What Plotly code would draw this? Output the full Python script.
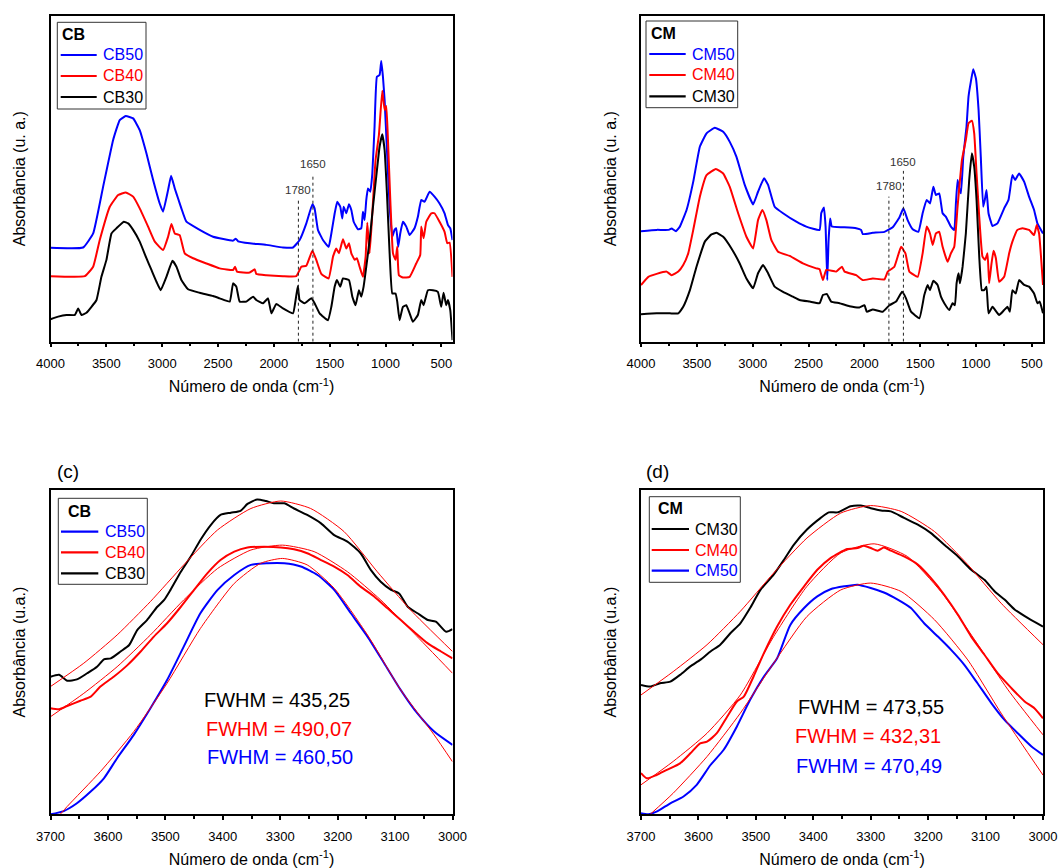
import plotly.graph_objects as go

# ---------------- DATA (wavenumber cm-1, absorbance a.u.) ----------------
# Panel (a): CB full spectra
CB50_FULL = [(4000, 28.8), (3708, 28.9), (3618, 33.2), (3529, 47.5), (3439, 61.9), (3380, 68.0), (3326, 69.2),
             (3260, 68.5), (3201, 64.9), (3141, 57.8), (3081, 49.6), (3022, 42.4), (2992, 39.9), (2947, 46.5),
             (2920, 50.9), (2887, 47.0), (2858, 44.0), (2828, 40.9), (2783, 36.8), (2664, 34.3), (2544, 32.2),
             (2365, 31.0), (2341, 31.6), (2320, 30.8), (2216, 30.2), (2067, 29.7), (1918, 28.9), (1828, 28.9),
             (1769, 31.2), (1709, 36.3), (1655, 42.2), (1635, 40.9), (1605, 34.3), (1560, 31.2), (1509, 29.1),
             (1485, 33.2), (1455, 39.4), (1432, 42.9), (1405, 41.4), (1387, 37.8), (1375, 41.4), (1351, 39.4),
             (1327, 42.2), (1306, 40.4), (1285, 36.8), (1247, 34.5), (1217, 34.8), (1202, 39.9), (1187, 37.3),
             (1172, 43.5), (1157, 47.0), (1136, 46.0), (1118, 51.6), (1098, 66.0), (1077, 81.3), (1053, 81.8),
             (1038, 86.1), (1023, 81.3), (1008, 74.1), (987, 58.8), (963, 41.4), (939, 32.2), (919, 34.3),
             (904, 34.8), (886, 29.1), (868, 33.2), (844, 36.8), (814, 35.3), (784, 32.7), (740, 34.8),
             (710, 38.3), (680, 43.5), (650, 42.9), (605, 46.0), (561, 44.5), (516, 42.4), (471, 39.4),
             (441, 35.8), (420, 34.8), (400, 31.2)]
CB40_FULL = [(4000, 20.1), (3693, 20.1), (3618, 23.0), (3559, 31.2), (3469, 41.4), (3394, 45.0), (3326, 45.8),
             (3260, 44.5), (3201, 40.9), (3126, 35.3), (3066, 30.7), (2992, 28.1), (2947, 32.2), (2917, 36.1),
             (2887, 33.2), (2843, 32.7), (2798, 27.1), (2723, 25.6), (2604, 24.0), (2485, 22.5), (2365, 22.0),
             (2347, 23.0), (2330, 21.5), (2216, 21.2), (2171, 22.2), (2157, 20.8), (2067, 20.4), (1918, 20.1),
             (1799, 20.1), (1754, 23.0), (1709, 23.3), (1655, 27.9), (1620, 25.1), (1575, 20.8), (1509, 19.4),
             (1470, 26.1), (1441, 28.6), (1417, 27.1), (1381, 31.4), (1351, 28.6), (1327, 30.2), (1306, 27.1),
             (1276, 25.1), (1256, 25.6), (1232, 23.0), (1202, 19.9), (1178, 26.1), (1163, 36.5), (1142, 27.1),
             (1118, 39.4), (1089, 55.7), (1059, 63.4), (1029, 77.0), (1008, 71.1), (993, 72.3), (978, 61.9),
             (957, 43.5), (933, 27.1), (910, 25.1), (895, 29.1), (880, 20.4), (844, 19.7), (784, 19.9),
             (725, 24.0), (689, 26.6), (680, 35.3), (659, 31.7), (635, 36.8), (590, 39.4), (561, 39.4),
             (516, 36.8), (471, 33.7), (447, 30.2), (426, 30.4), (400, 19.9)]
CB30_FULL = [(4000, 6.9), (3931, 7.7), (3857, 8.2), (3782, 8.2), (3752, 10.2), (3723, 8.2), (3678, 8.9),
             (3633, 10.7), (3588, 12.8), (3544, 19.9), (3499, 25.1), (3454, 33.2), (3409, 34.8), (3344, 36.8),
             (3305, 36.3), (3260, 34.3), (3201, 30.7), (3141, 25.6), (3096, 22.0), (3051, 18.4), (3013, 15.8),
             (2962, 19.9), (2908, 24.8), (2872, 23.0), (2828, 18.9), (2768, 16.1), (2664, 15.0), (2544, 14.0),
             (2485, 13.3), (2395, 12.3), (2365, 17.9), (2336, 16.9), (2306, 12.3), (2246, 12.3), (2186, 13.8),
             (2157, 12.8), (2097, 11.8), (2052, 13.3), (2022, 8.7), (1978, 11.6), (1918, 10.2), (1828, 8.7),
             (1805, 12.8), (1785, 17.1), (1769, 12.8), (1724, 11.8), (1664, 13.3), (1635, 11.8), (1590, 8.7),
             (1515, 6.6), (1485, 10.7), (1455, 16.9), (1435, 18.9), (1405, 16.9), (1381, 19.4), (1327, 18.9),
             (1297, 13.8), (1268, 11.2), (1238, 15.8), (1217, 13.8), (1196, 16.9), (1172, 23.0), (1142, 31.2),
             (1112, 41.4), (1083, 50.6), (1053, 59.8), (1029, 63.6), (1008, 58.8), (987, 45.5), (963, 27.1),
             (939, 14.8), (910, 14.8), (895, 12.3), (874, 6.6), (844, 10.7), (814, 11.2), (784, 8.7),
             (755, 6.1), (710, 8.2), (680, 12.8), (659, 11.2), (620, 15.8), (576, 15.8), (531, 15.3),
             (501, 10.7), (480, 15.0), (456, 11.2), (441, 12.8), (420, 9.7), (400, 0.5)]

# Panel (b): CM full spectra
CM50_FULL = [(4000, 33.9), (3860, 34.3), (3756, 34.3), (3726, 34.7), (3687, 33.9), (3652, 35.3), (3592, 40.4),
             (3532, 49.1), (3473, 59.8), (3413, 63.9), (3339, 65.6), (3264, 64.4), (3205, 61.3), (3145, 56.7),
             (3071, 48.1), (2996, 42.1), (2952, 46.0), (2898, 50.1), (2862, 48.1), (2803, 41.4), (2728, 39.4),
             (2609, 36.8), (2520, 35.3), (2401, 34.3), (2386, 39.4), (2362, 41.2), (2347, 35.3), (2332, 18.9),
             (2320, 31.2), (2306, 37.8), (2291, 35.3), (2192, 35.1), (2073, 34.8), (2029, 34.3), (2014, 33.0),
             (1924, 33.4), (1820, 33.7), (1746, 35.1), (1686, 38.1), (1650, 40.9), (1612, 37.3), (1567, 34.5),
             (1516, 33.7), (1478, 39.4), (1442, 43.5), (1412, 42.4), (1382, 47.5), (1359, 45.0), (1329, 45.5),
             (1299, 39.4), (1269, 38.3), (1225, 35.3), (1195, 34.3), (1180, 42.4), (1165, 49.6), (1150, 47.0),
             (1135, 45.5), (1114, 56.7), (1085, 66.0), (1067, 75.2), (1046, 79.8), (1025, 83.6), (1001, 80.8),
             (977, 71.1), (957, 56.7), (936, 41.4), (921, 43.5), (906, 46.5), (888, 39.4), (852, 35.5),
             (808, 36.3), (748, 40.9), (709, 43.5), (674, 51.1), (650, 49.6), (614, 51.6), (569, 49.1),
             (525, 44.5), (480, 40.4), (450, 36.3), (400, 33.2)]
CM40_FULL = [(4000, 17.4), (3934, 19.9), (3860, 20.8), (3771, 21.5), (3726, 20.4), (3666, 21.5), (3622, 23.5),
             (3577, 27.1), (3532, 34.3), (3473, 44.5), (3413, 51.1), (3330, 53.0), (3264, 51.6), (3205, 47.5),
             (3130, 39.4), (3056, 32.2), (2996, 28.6), (2952, 37.3), (2913, 40.4), (2877, 37.3), (2833, 31.2),
             (2773, 27.6), (2669, 26.3), (2550, 24.0), (2431, 22.5), (2401, 22.2), (2371, 18.9), (2341, 22.0),
             (2252, 21.5), (2201, 23.0), (2177, 21.5), (2073, 20.4), (2014, 18.9), (1924, 19.4), (1820, 19.1),
             (1790, 21.5), (1731, 23.0), (1671, 29.1), (1632, 27.1), (1597, 21.5), (1522, 19.9), (1478, 27.1),
             (1442, 35.3), (1412, 33.2), (1388, 29.7), (1359, 33.2), (1329, 33.7), (1299, 29.1), (1254, 24.5),
             (1225, 27.1), (1195, 29.1), (1165, 41.4), (1126, 55.7), (1091, 61.9), (1067, 67.0), (1037, 67.8),
             (1016, 63.9), (995, 51.6), (971, 38.3), (942, 26.1), (918, 25.1), (897, 27.1), (882, 17.9),
             (861, 24.0), (843, 27.9), (822, 25.6), (793, 18.4), (748, 19.9), (703, 27.1), (674, 30.7),
             (629, 34.3), (584, 34.8), (525, 34.3), (480, 32.7), (456, 35.8), (435, 33.2), (400, 17.4)]
CM30_FULL = [(4000, 8.4), (3860, 8.7), (3741, 8.7), (3666, 8.7), (3622, 10.7), (3562, 15.8), (3503, 23.0),
             (3428, 30.7), (3369, 32.9), (3324, 33.4), (3264, 32.2), (3190, 28.6), (3116, 24.0), (3056, 19.4),
             (2996, 16.4), (2952, 21.0), (2907, 23.5), (2862, 21.0), (2803, 16.9), (2728, 15.3), (2639, 13.8),
             (2580, 12.8), (2490, 12.3), (2401, 11.8), (2371, 14.3), (2335, 14.6), (2297, 12.3), (2222, 11.8),
             (2133, 10.9), (2044, 10.5), (1999, 11.2), (1978, 9.2), (1924, 9.9), (1835, 9.2), (1775, 11.2),
             (1716, 12.3), (1662, 15.3), (1627, 13.3), (1582, 9.2), (1507, 7.2), (1463, 14.3), (1433, 17.4),
             (1412, 15.8), (1382, 18.7), (1344, 17.4), (1314, 13.8), (1284, 11.8), (1239, 9.7), (1210, 11.8),
             (1189, 11.2), (1174, 17.9), (1156, 21.0), (1144, 17.9), (1120, 23.0), (1091, 33.2), (1061, 49.6),
             (1037, 57.8), (1016, 53.7), (995, 43.5), (971, 26.1), (948, 15.8), (927, 15.8), (906, 16.9),
             (888, 8.7), (852, 10.7), (793, 8.2), (748, 9.7), (718, 10.7), (697, 9.2), (674, 15.8),
             (644, 14.8), (614, 18.9), (569, 17.4), (525, 16.9), (480, 14.8), (450, 11.8), (429, 12.3), (400, 8.7)]

# Marked bands (a) and (b): wavenumber, top of dotted guide, label height
BANDS = [1780, 1650]
BAND_TOP_A = [43.8, 51.4]
BAND_LABEL_A = [46.6, 54.6]
BAND_TOP_B = [44.5, 52.4]
BAND_LABEL_B = [47.8, 55.2]

# Panel (c): CB O-H band with Gaussian fits
CB30_OH = [(3700, 42.4), (3685, 43.0), (3671, 41.2), (3654, 41.6), (3636, 43.5), (3619, 45.5), (3607, 47.8),
           (3595, 48.1), (3578, 50.2), (3563, 52.2), (3549, 56.8), (3532, 59.9), (3514, 64.0), (3502, 66.1),
           (3491, 69.2), (3473, 74.8), (3456, 79.4), (3439, 84.6), (3421, 89.2), (3404, 92.3), (3386, 93.0),
           (3369, 93.6), (3357, 95.7), (3340, 97.1), (3325, 96.6), (3311, 95.9), (3293, 95.9), (3276, 94.3),
           (3253, 92.3), (3229, 89.7), (3206, 86.1), (3183, 84.1), (3160, 80.5), (3142, 75.3), (3125, 71.7),
           (3107, 69.2), (3093, 68.1), (3078, 64.0), (3061, 62.0), (3043, 59.9), (3029, 59.4), (3011, 56.3),
           (3000, 57.1)]
CB30_FIT = [(3700, 39.4), (3642, 46.6), (3584, 55.3), (3526, 65.6), (3468, 76.9), (3409, 87.7), (3351, 94.3),
            (3299, 96.6), (3247, 94.3), (3189, 87.2), (3131, 74.8), (3073, 63.0), (3000, 50.2)]
CB40_OH = [(3700, 32.7), (3685, 32.4), (3671, 33.4), (3648, 35.0), (3630, 36.3), (3613, 39.4), (3590, 42.4),
           (3566, 46.0), (3543, 50.2), (3520, 54.8), (3497, 58.9), (3473, 64.0), (3450, 69.2), (3427, 74.3),
           (3404, 78.4), (3380, 81.0), (3357, 82.3), (3328, 82.5), (3299, 82.3), (3276, 81.7), (3253, 80.5),
           (3229, 78.4), (3206, 76.4), (3183, 73.8), (3160, 70.2), (3136, 67.1), (3113, 63.5), (3090, 59.9),
           (3067, 56.3), (3043, 52.7), (3020, 50.2), (3000, 48.1)]
CB40_FIT = [(3700, 30.1), (3642, 37.3), (3584, 45.5), (3526, 55.3), (3468, 66.1), (3409, 75.8), (3351, 81.5),
            (3296, 83.0), (3241, 81.0), (3183, 74.8), (3125, 66.1), (3067, 55.8), (3000, 43.5)]
CB50_OH = [(3700, 0.0), (3677, 1.0), (3654, 3.4), (3630, 7.0), (3607, 11.1), (3584, 17.3), (3555, 24.5),
           (3526, 32.7), (3497, 41.4), (3468, 51.7), (3439, 62.0), (3409, 69.2), (3380, 73.8), (3351, 76.9),
           (3322, 77.4), (3293, 77.4), (3264, 76.4), (3235, 73.8), (3206, 69.2), (3177, 62.0), (3148, 54.8),
           (3119, 46.6), (3090, 38.3), (3061, 31.1), (3032, 25.5), (3000, 21.4)]
CB50_FIT = [(3683, 0.0), (3671, 2.4), (3613, 13.2), (3555, 25.5), (3497, 40.4), (3439, 57.3), (3380, 71.2),
            (3334, 77.4), (3296, 78.9), (3253, 76.9), (3206, 69.7), (3148, 55.3), (3090, 38.3), (3032, 24.5),
            (3000, 16.2)]

# Panel (d): CM O-H band with Gaussian fits
CM30_OH = [(3700, 39.9), (3684, 39.4), (3667, 40.4), (3649, 40.9), (3632, 43.0), (3614, 45.6), (3597, 47.6),
           (3579, 50.2), (3562, 52.3), (3544, 55.9), (3527, 58.9), (3510, 63.6), (3492, 69.2), (3469, 73.9),
           (3451, 78.5), (3434, 83.1), (3411, 87.8), (3387, 91.4), (3373, 93.1), (3358, 93.1), (3335, 95.0),
           (3317, 95.2), (3300, 94.4), (3282, 93.7), (3265, 93.4), (3242, 91.4), (3218, 89.3), (3195, 86.7),
           (3172, 83.1), (3148, 79.5), (3125, 75.4), (3102, 72.3), (3084, 68.7), (3067, 66.2), (3049, 63.1),
           (3026, 60.5), (3000, 57.9)]
CM30_FIT = [(3700, 36.8), (3644, 44.0), (3585, 52.3), (3527, 62.6), (3469, 74.4), (3411, 85.2), (3352, 92.9),
            (3300, 95.2), (3247, 93.4), (3189, 87.2), (3131, 77.0), (3073, 65.1), (3000, 52.3)]
CM40_OH = [(3700, 12.7), (3690, 11.1), (3673, 12.1), (3655, 13.7), (3632, 15.7), (3614, 18.8), (3597, 21.9),
           (3585, 22.4), (3568, 25.0), (3550, 30.1), (3533, 34.8), (3521, 36.3), (3504, 42.5), (3486, 49.7),
           (3463, 57.9), (3440, 64.6), (3416, 70.3), (3393, 75.4), (3370, 79.0), (3341, 81.8), (3323, 82.1),
           (3312, 82.8), (3300, 82.1), (3288, 81.3), (3277, 82.3), (3265, 81.3), (3242, 79.5), (3218, 77.0),
           (3195, 72.8), (3172, 67.7), (3148, 61.5), (3125, 54.8), (3102, 49.2), (3079, 43.5), (3055, 38.9),
           (3032, 34.8), (3015, 32.7), (3000, 29.6)]
CM40_FIT = [(3700, 9.1), (3644, 16.3), (3585, 25.0), (3527, 36.8), (3469, 54.8), (3411, 70.3), (3352, 80.6),
            (3294, 83.4), (3236, 79.5), (3178, 68.7), (3119, 53.8), (3061, 38.4), (3000, 24.5)]
CM50_OH = [(3700, 0.3), (3687, 0.0), (3673, 0.8), (3649, 3.4), (3626, 5.5), (3603, 9.1), (3579, 15.2),
           (3556, 19.9), (3533, 27.1), (3510, 35.3), (3486, 42.5), (3463, 48.1), (3440, 58.4), (3416, 63.6),
           (3393, 67.2), (3370, 69.4), (3346, 70.3), (3323, 70.8), (3300, 69.8), (3277, 68.4), (3253, 66.2),
           (3230, 63.6), (3207, 58.9), (3183, 54.8), (3160, 50.7), (3137, 46.1), (3114, 40.4), (3090, 34.3),
           (3067, 29.1), (3044, 25.0), (3020, 20.9), (3000, 18.3)]
CM50_FIT = [(3684, 0.0), (3644, 6.5), (3585, 17.8), (3527, 31.2), (3469, 46.6), (3411, 61.0), (3352, 69.2),
            (3300, 71.3), (3247, 68.7), (3189, 60.0), (3131, 47.6), (3073, 31.2), (3000, 12.1)]

FWHM_CB = ["435,25", "490,07", "460,50"]  # CB30, CB40, CB50
FWHM_CM = ["473,55", "432,31", "470,49"]  # CM30, CM40, CM50

# ---------------- STYLE ----------------
FONT = "Arial, Liberation Sans, sans-serif"
BLUE, RED, BLACK = "#0000FF", "#FF0000", "#000000"
W, H = 1059, 868


def xs(p):
    return [a for a, _ in p]


def ys(p):
    return [b for _, b in p]


fig = go.Figure()


def spectrum(pts, color, xa, ya, width=2.0, smoothing=0.6):
    fig.add_trace(go.Scatter(
        x=xs(pts), y=ys(pts), mode="lines",
        line=dict(color=color, width=width, shape="spline", smoothing=smoothing),
        showlegend=False, xaxis=xa, yaxis=ya, hoverinfo="skip"))


# (a)
spectrum(CB50_FULL, BLUE, "x", "y", smoothing=0.35)
spectrum(CB40_FULL, RED, "x", "y", smoothing=0.35)
spectrum(CB30_FULL, BLACK, "x", "y", smoothing=0.35)
# (b)
spectrum(CM50_FULL, BLUE, "x2", "y2", smoothing=0.35)
spectrum(CM40_FULL, RED, "x2", "y2", smoothing=0.35)
spectrum(CM30_FULL, BLACK, "x2", "y2", smoothing=0.35)
# (c)
spectrum(CB50_OH, BLUE, "x3", "y3")
spectrum(CB40_OH, RED, "x3", "y3")
spectrum(CB30_OH, BLACK, "x3", "y3")
for f in (CB30_FIT, CB40_FIT, CB50_FIT):
    spectrum(f, RED, "x3", "y3", width=1.0)
# (d)
spectrum(CM30_OH, BLACK, "x4", "y4")
spectrum(CM40_OH, RED, "x4", "y4")
spectrum(CM50_OH, BLUE, "x4", "y4")
for f in (CM30_FIT, CM40_FIT, CM50_FIT):
    spectrum(f, RED, "x4", "y4", width=1.0)

shapes, annotations = [], []
for xa, ya, tops, labs in (("x", "y", BAND_TOP_A, BAND_LABEL_A), ("x2", "y2", BAND_TOP_B, BAND_LABEL_B)):
    for wn, top, lab in zip(BANDS, tops, labs):
        shapes.append(dict(type="line", xref=xa, yref=ya, x0=wn, x1=wn, y0=0, y1=top,
                           line=dict(color="#222", width=1, dash="dot")))
        annotations.append(dict(xref=xa, yref=ya, x=wn, y=lab, text=str(wn), showarrow=False,
                                xanchor="center", yanchor="middle",
                                font=dict(family=FONT, size=11.5, color="#333")))

for xa, ya, vals, xc, yc in (("x3", "y3", FWHM_CB, [3305, 3302, 3300], [35.3, 26.2, 17.8]),
                             ("x4", "y4", FWHM_CM, [3300, 3304, 3303], [33.2, 24.2, 14.9])):
    for v, c, x0, y0 in zip(vals, (BLACK, RED, BLUE), xc, yc):
        annotations.append(dict(xref=xa, yref=ya, x=x0, y=y0, text=f"FWHM = {v}", showarrow=False,
                                xanchor="center", yanchor="middle",
                                font=dict(family=FONT, size=20, color=c)))

annotations.append(dict(xref="paper", yref="paper", x=68 / W, y=1 - 471 / H, text="(c)", showarrow=False,
                        xanchor="center", yanchor="middle", font=dict(family=FONT, size=19, color="black")))
annotations.append(dict(xref="paper", yref="paper", x=657 / W, y=1 - 471 / H, text="(d)", showarrow=False,
                        xanchor="center", yanchor="middle", font=dict(family=FONT, size=19, color="black")))

# ---- boxed legends (pixel layout of each legend box) ----
LEGENDS = [
    dict(box=(57.3, 146.0, 22.3, 109.0), title="CB", tpos=(60.0, 35.0), rows=(55.0, 76.0, 97.0),
         line=(60.7, 96.7), tx=101.0, entries=(("CB50", BLUE), ("CB40", RED), ("CB30", BLACK))),
    dict(box=(646.0, 737.7, 21.0, 107.7), title="CM", tpos=(649.3, 33.5), rows=(54.0, 75.0, 96.3),
         line=(649.3, 685.7), tx=690.0, entries=(("CM50", BLUE), ("CM40", RED), ("CM30", BLACK))),
    dict(box=(58.3, 147.3, 498.3, 584.3), title="CB", tpos=(65.7, 511.0), rows=(531.7, 552.3, 573.3),
         line=(61.0, 98.3), tx=102.8, entries=(("CB50", BLUE), ("CB40", RED), ("CB30", BLACK))),
    dict(box=(649.3, 740.3, 496.7, 582.3), title="CM", tpos=(656.0, 508.5), rows=(529.0, 550.0, 570.7),
         line=(651.7, 689.0), tx=692.8, entries=(("CM30", BLACK), ("CM40", RED), ("CM50", BLUE))),
]


def px(x):
    return x / W


def py(y):
    return 1 - y / H


for lg in LEGENDS:
    x0, x1, y0, y1 = lg["box"]
    shapes.append(dict(type="rect", xref="paper", yref="paper", x0=px(x0), x1=px(x1), y0=py(y1), y1=py(y0),
                       line=dict(color="#333", width=1), fillcolor="white", layer="above"))
    annotations.append(dict(xref="paper", yref="paper", x=px(lg["tpos"][0]), y=py(lg["tpos"][1]),
                            xanchor="left", yanchor="middle", text=f"<b>{lg['title']}</b>", showarrow=False,
                            font=dict(family=FONT, size=16, color="black")))
    for (name, col), ry in zip(lg["entries"], lg["rows"]):
        shapes.append(dict(type="line", xref="paper", yref="paper", x0=px(lg["line"][0]), x1=px(lg["line"][1]),
                           y0=py(ry), y1=py(ry), line=dict(color=col, width=2.2), layer="above"))
        annotations.append(dict(xref="paper", yref="paper", x=px(lg["tx"]), y=py(ry), xanchor="left",
                                yanchor="middle", text=name, showarrow=False,
                                font=dict(family=FONT, size=16, color=col)))

XTITLE = "Número de onda (cm<sup>-1</sup>)"


def xaxis(dom, rng, dtick, minor, anchor):
    return dict(domain=dom, range=rng, anchor=anchor, showline=True, mirror=True, linecolor="black",
                linewidth=1.5, ticks="outside", ticklen=4, tickwidth=1.5, tickcolor="black",
                tickmode="linear", tick0=0, dtick=dtick, showgrid=False, zeroline=False, automargin=False,
                ticklabelstandoff=5,
                minor=dict(ticks="outside", ticklen=2.5, tickwidth=1.5, tickcolor="black", dtick=minor,
                           showgrid=False),
                tickfont=dict(family=FONT, size=13, color="black"),
                title=dict(text=XTITLE, font=dict(family=FONT, size=16, color="black"), standoff=11))


def yaxis(dom, anchor, title):
    return dict(domain=dom, range=[0, 100], anchor=anchor, showline=True, mirror=True, linecolor="black",
                linewidth=1.5, ticks="", showticklabels=False, showgrid=False, zeroline=False, automargin=False,
                title=dict(text=title, font=dict(family=FONT, size=16, color="black"), standoff=19))


top_y = [1 - 341.7 / H, 1 - 15.7 / H]
bot_y = [1 - 814.3 / H, 1 - 490.0 / H]
left_x = [50.5 / W, 452.5 / W]
right_x = [641.0 / W, 1043.0 / W]

fig.update_layout(
    width=W, height=H, margin=dict(l=0, r=0, t=0, b=0, autoexpand=False),
    paper_bgcolor="white", plot_bgcolor="white", showlegend=False,
    font=dict(family=FONT, color="black"),
    xaxis=xaxis(left_x, [4000, 400], 500, 250, "y"),
    yaxis=yaxis(top_y, "x", "Absorbância (u. a.)"),
    xaxis2=xaxis(right_x, [4000, 400], 500, 250, "y2"),
    yaxis2=yaxis(top_y, "x2", "Absorbância (u. a.)"),
    xaxis3=xaxis(left_x, [3700, 3000], 100, 50, "y3"),
    yaxis3=yaxis(bot_y, "x3", "Absorbância (u.a.)"),
    xaxis4=xaxis(right_x, [3700, 3000], 100, 50, "y4"),
    yaxis4=yaxis(bot_y, "x4", "Absorbância (u.a.)"),
    shapes=shapes, annotations=annotations,
)

fig.write_html("out.html")
